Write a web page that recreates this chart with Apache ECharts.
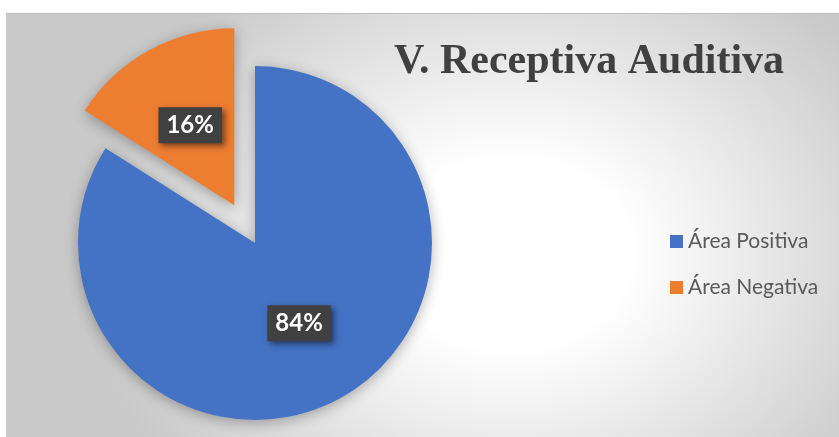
<!DOCTYPE html>
<html>
<head>
<meta charset="utf-8">
<script src="https://cdn.jsdelivr.net/npm/echarts@6/dist/echarts.min.js"></script>
<style>
  html, body { margin: 0; padding: 0; background: #fff; }
  #chart {
    position: absolute; left: 6px; top: 13px; width: 833px; height: 424px;
    border-top: 1px solid #bdbdbd; box-sizing: border-box;
    background: radial-gradient(ellipse 430px 340px at 504px 240px, #ffffff 0%, #ffffff 28%, #c9c9c9 100%);
  }
</style>
</head>
<body>
<div id="chart"></div>
<script>
var categorias = ['Área Positiva', 'Área Negativa'];
var valores = [84, 16];
var colores = ['#4472C4', '#ED7D31'];

var myChart = echarts.init(document.getElementById('chart'));
var datos = [];
for (var i = 0; i < categorias.length; i++) {
	datos.push({
		name: categorias[i],
		value: valores[i],
		selected: i === 1,            // la porción naranja va separada
		itemStyle: { color: colores[i] }
	});
}

var option = {
	backgroundColor: 'transparent',
	animation: false,
	title: {
		text: 'V. Receptiva Auditiva',
		left: 383,
		top: 22,
		textStyle: {
			fontFamily: '"Liberation Serif", "Times New Roman", serif',
			fontWeight: 'bold',
			fontSize: 42,
			color: '#404040'
		}
	},
	legend: {
		orient: 'vertical',
		left: 659,
		top: 212,
		icon: 'rect',
		itemWidth: 13,
		itemHeight: 13,
		itemGap: 25,
		data: categorias,
		textStyle: {
			fontFamily: 'Lato, "Open Sans", sans-serif',
			fontSize: 21,
			color: '#595959'
		}
	},
	series: [
		{
			type: 'pie',
			center: [249, 229],
			radius: 177,
			startAngle: 90,
			selectedMode: 'single',
			selectedOffset: 43,
			itemStyle: {
				shadowBlur: 14,
				shadowOffsetX: 0,
				shadowOffsetY: 3,
				shadowColor: 'rgba(0,0,0,0.3)'
			},
			emphasis: { scale: false },
			label: {
				position: 'inside',
				formatter: '{d}%',
				fontFamily: 'Lato, "Open Sans", sans-serif',
				fontWeight: 'bold',
				fontSize: 24,
				color: '#ffffff',
				backgroundColor: '#404040',
				padding: [6, 8, 6, 8],
				shadowBlur: 6,
				shadowOffsetX: 3,
				shadowOffsetY: 3,
				shadowColor: 'rgba(0,0,0,0.5)'
			},
			labelLine: { show: false },
			data: datos
		}
	]
};
myChart.setOption(option);
</script>
</body>
</html>
